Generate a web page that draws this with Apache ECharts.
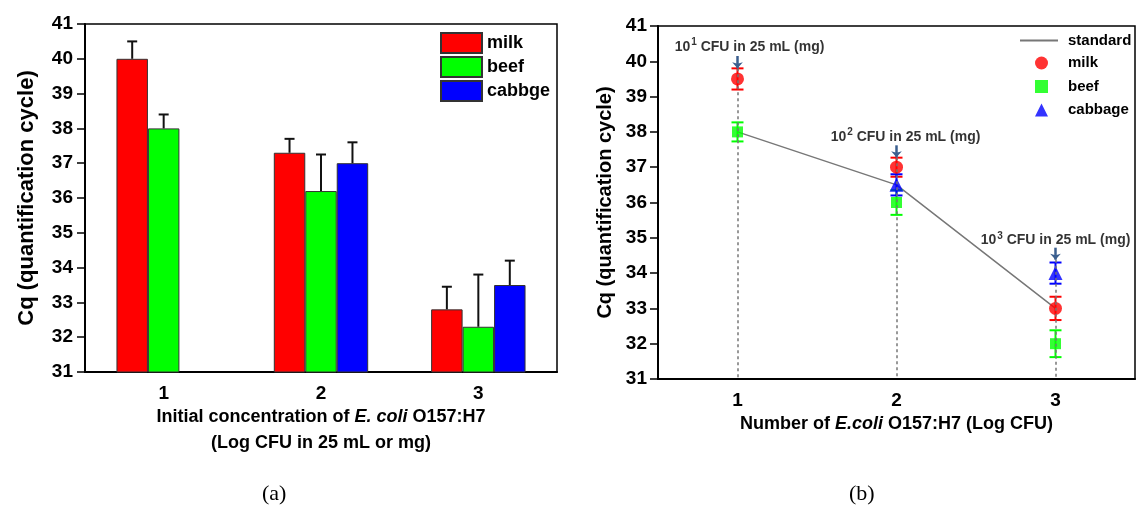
<!DOCTYPE html>
<html>
<head>
<meta charset="utf-8">
<script src="https://cdn.jsdelivr.net/npm/echarts@6/dist/echarts.min.js"></script>
<style>
  html, body { margin: 0; padding: 0; background: #fff; }
  #main { width: 1136px; height: 515px; }
</style>
</head>
<body>
<div id="main"></div>
<script>
// ---- data (a): bar chart ----
var categories = ['1', '2', '3'];
var milkBar = [40.0, 37.3, 32.8];
var milkBarErr = [0.5, 0.4, 0.65];
var beefBar = [38.0, 36.2, 32.3];
var beefBarErr = [0.4, 1.05, 1.5];
var cabbageBar = [null, 37.0, 33.5];
var cabbageBarErr = [null, 0.6, 0.7];

// ---- data (b): standard curve vs samples ----
var standardCq = [38.0, 36.5, 33.0];
var milkCq = [39.5, 37.0, 33.0];
var milkSd = [0.3, 0.27, 0.33];
var beefCq = [38.0, 36.0, 32.0];
var beefSd = [0.27, 0.35, 0.38];
var cabbageCq = [null, 36.5, 34.0];
var cabbageSd = [null, 0.3, 0.3];
var annotExp = ['1', '2', '3'];
var annotCq = [40.41, 37.86, 34.92];
var arrowTop = [40.15, 37.62, 34.72];
var arrowBottom = [39.8, 37.28, 34.38];

var yTicks = { min: 31, max: 41, interval: 1 };

var FONT = 'Liberation Sans';
var myChart = echarts.init(document.getElementById('main'));

// 误差线 (bars): only upward whisker
function barErrData(vals, errs, k) {
    var out = [];
    for (var i = 0; i < vals.length; i++) {
        if (vals[i] != null) out.push([i, vals[i], vals[i] + errs[i], k]);
    }
    return out;
}
function barErrRender(params, api) {
    var band = api.size([1, 0])[0];
    var bw = band * 0.6 / 3;
    var k = api.value(3);
    var p0 = api.coord([api.value(0), api.value(1)]);
    var p1 = api.coord([api.value(0), api.value(2)]);
    var x = p0[0] + (k - 1) * bw;
    var st = { stroke: '#111', lineWidth: 2 };
    return {
        type: 'group',
        children: [
            { type: 'line', shape: { x1: x, y1: p0[1], x2: x, y2: p1[1] }, style: st },
            { type: 'line', shape: { x1: x - 5, y1: p1[1], x2: x + 5, y2: p1[1] }, style: st }
        ]
    };
}

// 误差线 (points): symmetric, coloured
function sdData(vals, sds) {
    var out = [];
    for (var i = 0; i < vals.length; i++) {
        if (vals[i] != null) out.push([i, vals[i] - sds[i], vals[i] + sds[i]]);
    }
    return out;
}
function sdRenderer(color) {
    return function (params, api) {
        var lo = api.coord([api.value(0), api.value(1)]);
        var hi = api.coord([api.value(0), api.value(2)]);
        var x = lo[0];
        var st = { stroke: color, lineWidth: 2 };
        return {
            type: 'group',
            children: [
                { type: 'line', shape: { x1: x, y1: lo[1], x2: x, y2: hi[1] }, style: st },
                { type: 'line', shape: { x1: x - 6, y1: lo[1], x2: x + 6, y2: lo[1] }, style: st },
                { type: 'line', shape: { x1: x - 6, y1: hi[1], x2: x + 6, y2: hi[1] }, style: st }
            ]
        };
    };
}

var guideLines = [], arrowLines = [], annotData = [];
var annotOffset = [12, 9, 0];
for (var i = 0; i < categories.length; i++) {
    guideLines.push([{ coord: [i, arrowBottom[i]] }, { coord: [i, yTicks.min] }]);
    arrowLines.push([{ coord: [i, arrowTop[i]] }, { coord: [i, arrowBottom[i]] }]);
    annotData.push({ value: [i, annotCq[i]], label: { offset: [annotOffset[i], 0] }, exp: annotExp[i] });
}

function yAxisCfg(gridIndex, nameGap, fs, margin) {
    return {
        gridIndex: gridIndex,
        type: 'value',
        min: yTicks.min, max: yTicks.max, interval: yTicks.interval,
        name: 'Cq (quantification cycle)',
        nameLocation: 'middle',
        nameGap: nameGap,
        nameTextStyle: { fontFamily: FONT, fontWeight: 'bold', fontSize: fs, color: '#000' },
        axisLine: { show: true, lineStyle: { color: '#000', width: 2 } },
        axisTick: { show: true, length: 8, lineStyle: { color: '#000', width: 1.5 } },
        axisLabel: { fontFamily: FONT, fontWeight: 'bold', fontSize: 19, color: '#000', margin: margin },
        splitLine: { show: false }
    };
}

var legendText = { fontFamily: FONT, fontWeight: 'bold', fontSize: 15, color: '#000' };

var option = {
    backgroundColor: '#fff',
    animation: false,
    grid: [
        { left: 85, top: 24, width: 472, height: 348, show: true, borderColor: '#000', borderWidth: 1.5 },
        { left: 658, top: 26, width: 477, height: 353, show: true, borderColor: '#000', borderWidth: 1.5 }
    ],
    legend: [
        {
            data: ['milk', 'beef', 'cabbge'],
            orient: 'vertical', left: 440, top: 32, padding: 0,
            itemWidth: 41, itemHeight: 20, itemGap: 2,
            icon: 'rect',
            textStyle: { fontFamily: FONT, fontWeight: 'bold', fontSize: 18, color: '#000' }
        },
        {
            data: [{ name: 'standard', icon: 'rect' }],
            orient: 'vertical', left: 1020, top: 33, padding: 0,
            itemWidth: 38, itemHeight: 2,
            itemStyle: { color: '#777', borderWidth: 0 },
            textStyle: Object.assign({ padding: [0, 0, 0, 5] }, legendText)
        },
        {
            data: ['milk ', 'beef ', 'cabbage'],
            orient: 'vertical', left: 1035, top: 55.5, padding: 0,
            itemWidth: 13, itemHeight: 13, itemGap: 8.5,
            textStyle: Object.assign({ padding: [0, 0, 0, 15] }, legendText)
        }
    ],
    xAxis: [
        {
            gridIndex: 0,
            type: 'category',
            data: categories,
            name: '{b|Initial concentration of }{i|E. coli}{b| O157:H7}\n{b|(Log CFU in 25 mL or mg)}',
            nameLocation: 'middle',
            nameGap: 26,
            nameTextStyle: {
                rich: {
                    b: { fontFamily: FONT, fontWeight: 'bold', fontSize: 18, color: '#000', lineHeight: 26 },
                    i: { fontFamily: FONT, fontWeight: 'bold', fontStyle: 'italic', fontSize: 18, color: '#000', lineHeight: 26 }
                }
            },
            axisLine: { lineStyle: { color: '#000', width: 2 } },
            axisTick: { alignWithLabel: true, length: 7, lineStyle: { color: '#000', width: 1.5 } },
            axisLabel: { fontFamily: FONT, fontWeight: 'bold', fontSize: 19, color: '#000', margin: 12 }
        },
        {
            gridIndex: 1,
            type: 'category',
            data: categories,
            name: '{b|Number of }{i|E.coli}{b| O157:H7 (Log CFU)}',
            nameLocation: 'middle',
            nameGap: 30,
            nameTextStyle: {
                rich: {
                    b: { fontFamily: FONT, fontWeight: 'bold', fontSize: 18, color: '#000', lineHeight: 20 },
                    i: { fontFamily: FONT, fontWeight: 'bold', fontStyle: 'italic', fontSize: 18, color: '#000', lineHeight: 20 }
                }
            },
            axisLine: { lineStyle: { color: '#000', width: 2 } },
            axisTick: { alignWithLabel: true, length: 7, lineStyle: { color: '#000', width: 1.5 } },
            axisLabel: { fontFamily: FONT, fontWeight: 'bold', fontSize: 19, color: '#000', margin: 12 }
        }
    ],
    yAxis: [yAxisCfg(0, 47, 22, 12), yAxisCfg(1, 43, 20, 11)],
    series: [
        // (a)
        {
            name: 'milk', type: 'bar', xAxisIndex: 0, yAxisIndex: 0,
            data: milkBar, barGap: '0%', barCategoryGap: '40%',
            itemStyle: { color: '#ff0000', borderColor: '#333', borderWidth: 1 }
        },
        {
            name: 'beef', type: 'bar', xAxisIndex: 0, yAxisIndex: 0,
            data: beefBar, barGap: '0%', barCategoryGap: '40%',
            itemStyle: { color: '#00ff00', borderColor: '#333', borderWidth: 1 }
        },
        {
            name: 'cabbge', type: 'bar', xAxisIndex: 0, yAxisIndex: 0,
            data: cabbageBar, barGap: '0%', barCategoryGap: '40%',
            itemStyle: { color: '#0000ff', borderColor: '#333', borderWidth: 1 }
        },
        {
            type: 'custom', xAxisIndex: 0, yAxisIndex: 0, silent: true, z: 5,
            renderItem: barErrRender,
            data: barErrData(milkBar, milkBarErr, 0)
                .concat(barErrData(beefBar, beefBarErr, 1))
                .concat(barErrData(cabbageBar, cabbageBarErr, 2))
        },
        // (b)
        {
            name: 'standard', type: 'line', xAxisIndex: 1, yAxisIndex: 1,
            data: standardCq, symbol: 'none', z: 2,
            lineStyle: { color: '#777', width: 1.5 },
            itemStyle: { color: '#777' },
            markLine: {
                silent: true, symbol: ['none', 'none'], label: { show: false },
                lineStyle: { color: '#777', width: 1.5, type: [3, 3] },
                data: guideLines
            }
        },
        {
            type: 'custom', xAxisIndex: 1, yAxisIndex: 1, silent: true, z: 3,
            renderItem: sdRenderer('#ff0000'), data: sdData(milkCq, milkSd)
        },
        {
            type: 'custom', xAxisIndex: 1, yAxisIndex: 1, silent: true, z: 3,
            renderItem: sdRenderer('#00ff00'), data: sdData(beefCq, beefSd)
        },
        {
            type: 'custom', xAxisIndex: 1, yAxisIndex: 1, silent: true, z: 3,
            renderItem: sdRenderer('#0000ff'), data: sdData(cabbageCq, cabbageSd)
        },
        {
            name: 'milk ', type: 'scatter', xAxisIndex: 1, yAxisIndex: 1, z: 4,
            data: milkCq, symbol: 'circle', symbolSize: 13,
            itemStyle: { color: '#ff0000' }
        },
        {
            name: 'beef ', type: 'scatter', xAxisIndex: 1, yAxisIndex: 1, z: 4,
            data: beefCq, symbol: 'rect', symbolSize: 11,
            itemStyle: { color: '#00ff00' }
        },
        {
            name: 'cabbage', type: 'scatter', xAxisIndex: 1, yAxisIndex: 1, z: 4,
            data: cabbageCq, symbol: 'triangle', symbolSize: 14,
            itemStyle: { color: '#0000ff' }
        },
        {
            type: 'scatter', xAxisIndex: 1, yAxisIndex: 1, z: 6, silent: true,
            symbolSize: 0,
            data: annotData,
            label: {
                show: true, position: 'inside',
                formatter: function (p) {
                    return '{n|10}{s|' + p.data.exp + '}{n| CFU in 25 mL (mg)}';
                },
                rich: {
                    n: { fontFamily: FONT, fontWeight: 'bold', fontSize: 14, color: '#000' },
                    s: { fontFamily: FONT, fontWeight: 'bold', fontSize: 10, color: '#000', padding: [0, 0, 9, 1] }
                }
            },
            markLine: {
                silent: true, symbol: ['none', 'arrow'], symbolSize: [8, 6],
                label: { show: false },
                lineStyle: { color: '#3b5f8f', width: 2.5, type: 'solid' },
                data: arrowLines
            }
        }
    ],
    graphic: [
        { type: 'text', left: 262, top: 483, style: { text: '(a)', font: '22px "Liberation Serif"', fill: '#000' } },
        { type: 'text', left: 849, top: 483, style: { text: '(b)', font: '22px "Liberation Serif"', fill: '#000' } }
    ]
};

myChart.setOption(option);
</script>
</body>
</html>
